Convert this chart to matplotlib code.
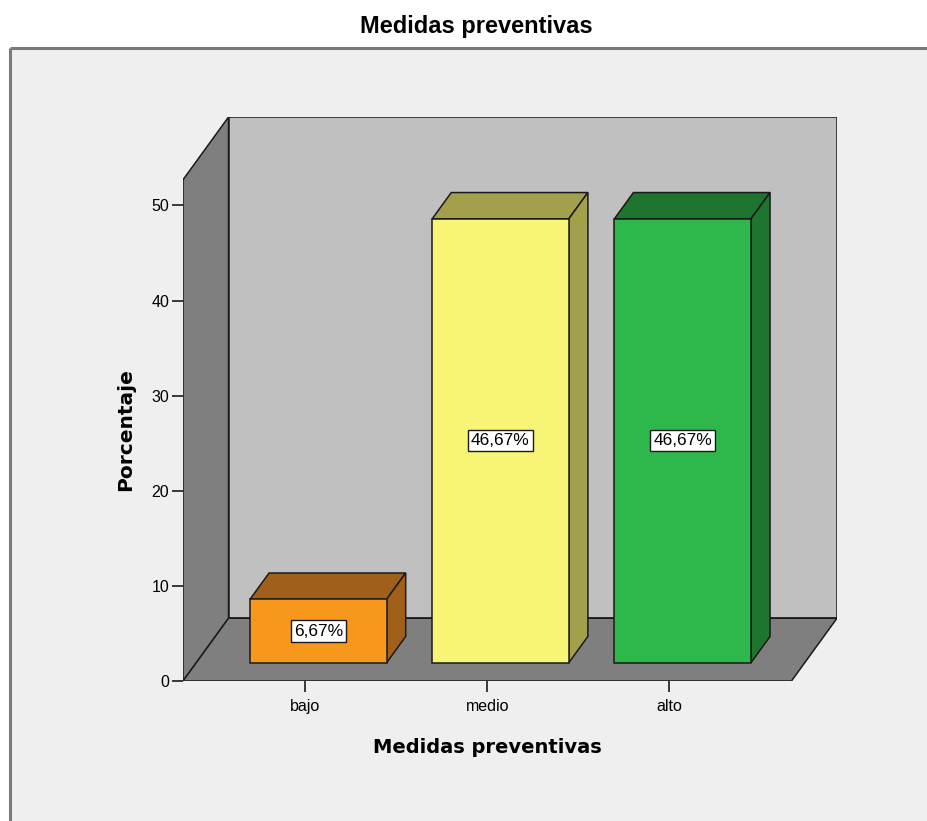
import numpy as np
import matplotlib
matplotlib.use("Agg")
from matplotlib import pyplot as plt
from matplotlib import font_manager
from matplotlib.patches import Polygon

categories = ["bajo", "medio", "alto"]
percentages = [6.67, 46.67, 46.67]
y_ticks = [0, 10, 20, 30, 40, 50]

front_colors = ["#f7981d", "#f8f576", "#2eb84b"]
shade_colors = ["#a0601a", "#a3a04b", "#1e7530"]

W, H, DPI = 928, 821, 100

installed = {f.name for f in font_manager.fontManager.ttflist}
base_font = "Liberation Sans" if "Liberation Sans" in installed else "DejaVu Sans"
plt.rcParams["font.family"] = [base_font, "DejaVu Sans"]

fig = plt.figure(figsize=(W / DPI, H / DPI), dpi=DPI)
fig.patch.set_facecolor("white")

# outer panel in pixel coordinates
bg = fig.add_axes([0, 0, 1, 1])
bg.set_xlim(0, W)
bg.set_ylim(H, 0)
bg.axis("off")
bg.add_patch(plt.Rectangle((10, 48), W, H, facecolor="#efefef", edgecolor="none"))
bg.plot([10, W], [48, 48], color="#7a7a7a", lw=2.2, solid_capstyle="butt")
bg.plot([10, 10], [48, H], color="#7a7a7a", lw=2.2, solid_capstyle="butt")

# main plotting area (front plane of the 3D box)
px_left, px_right, px_top, px_bottom = 183, 837, 117, 681
ax = fig.add_axes([px_left / W, 1 - px_bottom / H,
                   (px_right - px_left) / W, (px_bottom - px_top) / H])

x0, x1 = -0.67, 2.67          # front floor extent
dx, dy = 0.25, 6.6            # depth offset
wall_top = 52.7
ax.set_xlim(x0, x1 + dx)
ax.set_ylim(0, wall_top + dy)
ax.patch.set_alpha(0)
for sp in ax.spines.values():
    sp.set_visible(False)

edge = "#1a1a1a"
lw = 1.1

def face(pts, color, z):
    ax.add_patch(Polygon(pts, closed=True, facecolor=color, edgecolor=edge,
                         lw=lw, joinstyle="miter", zorder=z))

# walls and floor
face([(x0, 0), (x0, wall_top), (x0 + dx, wall_top + dy), (x0 + dx, dy)], "#7f7f7f", 1)
face([(x0 + dx, dy), (x1 + dx, dy), (x1 + dx, wall_top + dy), (x0 + dx, wall_top + dy)],
     "#c0c0c0", 1)
face([(x0, 0), (x1, 0), (x1 + dx, dy), (x0 + dx, dy)], "#7f7f7f", 2)

# bars sit in the middle of the depth
bar_w = 0.75
f_front, f_back = 0.29, 0.71
for i, (cat, val) in enumerate(zip(categories, percentages)):
    cx = i + dx * 0.5
    xl, xr = cx - bar_w / 2, cx + bar_w / 2
    # front plane corners
    fxl, fxr = xl - dx * 0.5 + dx * f_front, xr - dx * 0.5 + dx * f_front
    fy = dy * f_front
    bx_shift, by = dx * (f_back - f_front), dy * (f_back - f_front)
    top = fy + val
    face([(fxl, top), (fxr, top), (fxr + bx_shift, top + by), (fxl + bx_shift, top + by)],
         shade_colors[i], 3)
    face([(fxr, fy), (fxr + bx_shift, fy + by), (fxr + bx_shift, top + by), (fxr, top)],
         shade_colors[i], 3)
    face([(fxl, fy), (fxr, fy), (fxr, top), (fxl, top)], front_colors[i], 4)
    label = f"{val:.2f}".replace(".", ",") + "%"
    ax.text((fxl + fxr) / 2, fy + val / 2, label, ha="center", va="center",
            fontsize=12.5, zorder=5,
            bbox=dict(boxstyle="square,pad=0.18", facecolor="white",
                      edgecolor=edge, lw=1.0))

ax.set_yticks(y_ticks)
ax.set_xticks(range(len(categories)))
ax.set_xticklabels(categories)
ax.tick_params(axis="y", length=8, width=1.2, color=edge, labelsize=11.5, pad=2)
ax.tick_params(axis="x", length=8, width=1.2, color=edge, labelsize=11.5, pad=5)

ax.set_ylabel("Porcentaje", fontsize=14.5, fontweight="bold", family="DejaVu Sans")
ax.yaxis.set_label_coords(-0.073, 0.445)
ax.set_xlabel("Medidas preventivas", fontsize=14, fontweight="bold", family="DejaVu Sans")
ax.xaxis.set_label_coords(0.466, -0.101)

fig.text(476 / W, 1 - 27 / H, "Medidas preventivas", ha="center", va="center",
         fontsize=17, fontweight="bold")

fig.savefig("out.png", dpi=DPI)
